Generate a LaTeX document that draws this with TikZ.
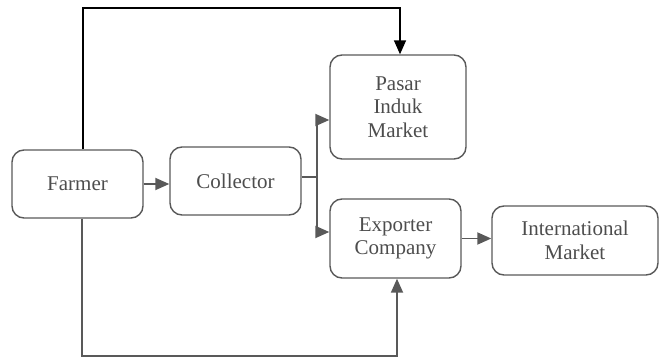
\documentclass[tikz,border=0pt]{standalone}
\usepackage{fontspec}
\setmainfont{Liberation Serif}
\usetikzlibrary{arrows.meta}
\definecolor{ln}{HTML}{595959}
\definecolor{tx}{HTML}{4D4D4D}
\begin{document}
\begin{tikzpicture}[x=1pt,y=1pt,
  box/.style={draw=ln,line width=1.4pt,rounded corners=12pt,text=tx,
    font=\fontsize{21}{23.5}\selectfont,align=center,inner sep=0pt},
  conn/.style={draw=ln,line width=1.8pt,-{Triangle[length=14pt,width=12pt]}},
  stub/.style={draw=ln,line width=1.4pt}]
\useasboundingbox (0,0) rectangle (659,362);
\node[box,minimum width=131pt,minimum height=68pt] (farmer) at (77.5,178) {Farmer};
\node[box,minimum width=131pt,minimum height=68pt] (collector) at (235.5,181) {Collector};
\node[box,minimum width=136pt,minimum height=104pt] (pasar) at (398,255) {Pasar\\Induk\\Market};
\node[box,minimum width=131pt,minimum height=79pt] (exporter) at (395.5,123.5) {Exporter\\Company};
\node[box,minimum width=166pt,minimum height=69pt] (intl) at (575,121.5) {International\\Market};
\coordinate (split) at (317,185);
\coordinate (topc) at (400,354);
\coordinate (botc) at (397,6);
\draw[conn] (farmer.east) -- (farmer.east -| collector.west);
\draw[stub] ([yshift=4pt]collector.east) -- (split);
\draw[conn] (split) |- ([yshift=-13pt]pasar.west);
\draw[conn] (split) |- ([yshift=6.5pt]exporter.west);
\draw[conn] (exporter.east) -- (exporter.east -| intl.west);
\draw[conn,draw=black,line width=1.5pt] ([xshift=5.5pt]farmer.north) |- (topc) -- ([xshift=2pt]pasar.north);
\draw[conn] ([xshift=4.5pt]farmer.south) |- (botc) -- ([xshift=1.5pt]exporter.south);
\end{tikzpicture}
\end{document}
